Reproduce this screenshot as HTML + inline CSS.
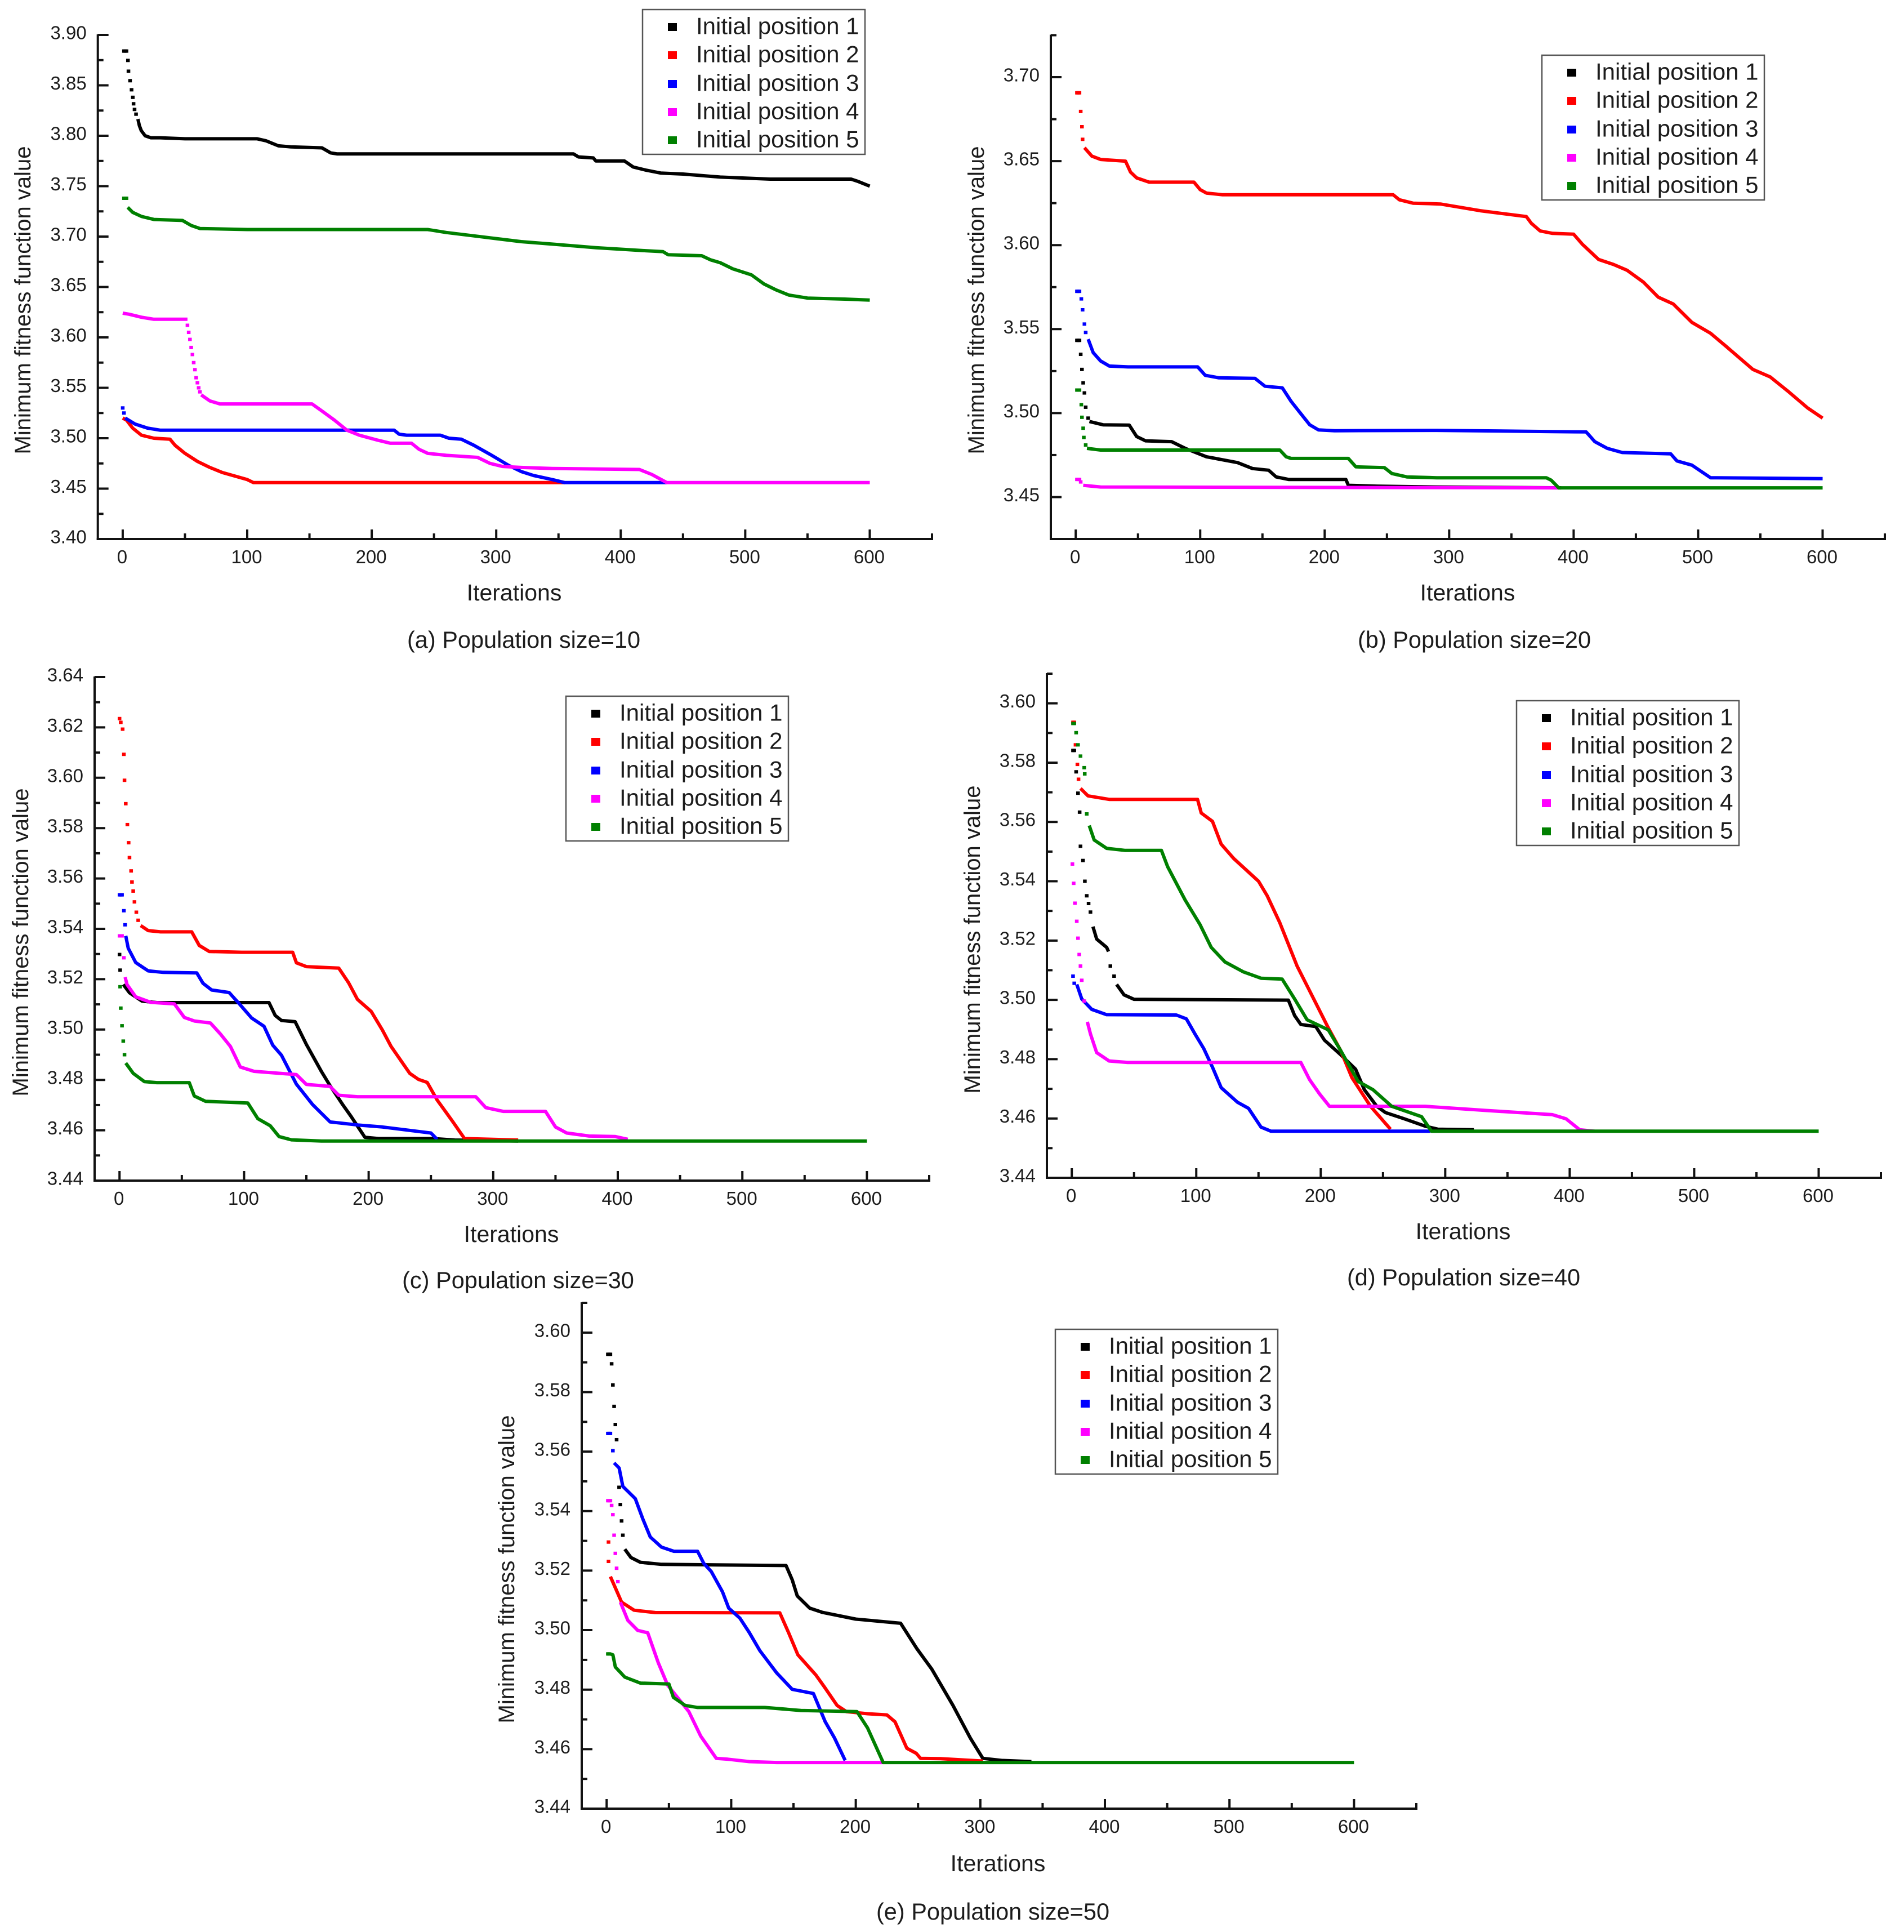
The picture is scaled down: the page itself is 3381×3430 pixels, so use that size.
<!DOCTYPE html>
<html lang="en">
<head>
<meta charset="utf-8">
<title>Minimum fitness function value by population size</title>
<style>
html,body{margin:0;padding:0;background:#fff;}
svg{display:block;}
text{font-family:"Liberation Sans",Arial,sans-serif;fill:#1c1c1c;}
</style>
</head>
<body>
<svg id="figure" xmlns="http://www.w3.org/2000/svg" width="3381" height="3430" viewBox="0 0 3381 3430"></svg>
<script>
const xMajorTicks=[0,100,200,300,400,500,600];
const xMinorTicks=[50,150,250,350,450,550,650];
const seriesLabels=['Initial position 1','Initial position 2','Initial position 3','Initial position 4','Initial position 5'];
const seriesColors=['#000000','#ff0000','#0000ff','#ff00ff','#008000'];

/* (a) Population size = 10 */
const aYMajor=['3.40','3.45','3.50','3.55','3.60','3.65','3.70','3.75','3.80','3.85','3.90'];
const aYMinor=[3.425,3.475,3.525,3.575,3.625,3.675,3.725,3.775,3.825,3.875];
const aDotIter1=[1,2,3,4.2,4.6,5.9,7.1,8.1,8.7,9.5,10.7];
const aDotVal1=[3.884,3.884,3.884,3.8747,3.864,3.8546,3.8456,3.8381,3.8317,3.8261,3.8214];
const aIter1=[12.2,13.4,14.9,18,22.5,30,50,108,115,125,135,160,167,172,362,366,378,380,403,410,420,432,450,480,520,585,590,600];
const aVal1=[3.8166,3.81,3.805,3.8,3.798,3.798,3.797,3.797,3.795,3.79,3.789,3.788,3.783,3.782,3.782,3.779,3.778,3.775,3.775,3.769,3.766,3.763,3.762,3.759,3.757,3.757,3.755,3.75];
const aDotIter2=[];
const aDotVal2=[];
const aIter2=[0,3,8,15,25,38,42,50,60,70,80,100,105,355];
const aVal2=[3.52,3.518,3.51,3.503,3.5,3.499,3.493,3.485,3.477,3.471,3.466,3.459,3.456,3.456];
const aDotIter3=[0,1];
const aDotVal3=[3.53,3.525];
const aIter3=[2,10,20,30,218,222,228,255,262,272,282,295,310,320,330,345,355,437];
const aVal3=[3.52,3.514,3.51,3.508,3.508,3.504,3.503,3.503,3.5,3.499,3.493,3.484,3.473,3.467,3.463,3.459,3.456,3.456];
const aDotIter4=[52,53,54,55,56,57,58,59,60,61,62];
const aDotVal4=[3.612,3.605,3.598,3.59,3.583,3.575,3.568,3.56,3.555,3.55,3.546];
const aIter4=[0,5,15,25,52];
const aVal4=[3.624,3.623,3.62,3.618,3.618];
const aIter4b=[63,70,78,100,152,160,170,180,190,205,215,232,238,245,260,285,295,305,320,345,415,425,437,600];
const aVal4b=[3.543,3.537,3.534,3.534,3.534,3.527,3.518,3.508,3.503,3.498,3.495,3.495,3.489,3.485,3.483,3.481,3.475,3.472,3.471,3.47,3.469,3.464,3.456,3.456];
const aDotIter5=[1,2,3];
const aDotVal5=[3.738,3.738,3.738];
const aIter5=[4,8,15,25,48,55,62,100,245,260,280,300,320,350,380,420,434,438,465,472,480,490,505,515,525,535,550,580,600];
const aVal5=[3.729,3.724,3.72,3.717,3.716,3.711,3.708,3.707,3.707,3.704,3.701,3.698,3.695,3.692,3.689,3.686,3.685,3.682,3.681,3.677,3.674,3.668,3.662,3.653,3.647,3.642,3.639,3.638,3.637];

/* (b) Population size = 20 */
const bYMajor=['3.45','3.50','3.55','3.60','3.65','3.70'];
const bYMinor=[3.475,3.525,3.575,3.625,3.675,3.725];
const bDotIter1=[1,2,3,4,5,6,7,8,10];
const bDotVal1=[3.5433,3.5433,3.5433,3.535,3.526,3.518,3.512,3.5035,3.497];
const bIter1=[11,22,43,49,56,77,88,105,130,142,155,161,171,217,219,242,290,390];
const bVal1=[3.495,3.493,3.4928,3.486,3.4835,3.483,3.479,3.474,3.4705,3.467,3.466,3.462,3.4605,3.4605,3.457,3.4565,3.456,3.4555];
const bDotIter2=[1,2,3,4,5,5.5];
const bDotVal2=[3.6907,3.6907,3.6907,3.6796,3.6705,3.663];
const bIter2=[7,13,20,40,44,49,59,95,100,105,118,255,260,271,293,325,362,366,373,383,400,407,420,432,443,456,468,480,495,510,522,544,558,573,588,600];
const bVal2=[3.658,3.653,3.651,3.65,3.6435,3.64,3.6375,3.6375,3.633,3.631,3.63,3.63,3.627,3.625,3.6245,3.6205,3.617,3.613,3.6085,3.607,3.6065,3.6005,3.5915,3.5885,3.585,3.578,3.569,3.565,3.554,3.5475,3.54,3.526,3.5215,3.5125,3.503,3.497];
const bDotIter3=[1,2,3,4.5,5.5,7,8];
const bDotVal3=[3.5725,3.5725,3.5725,3.568,3.5615,3.553,3.548];
const bIter3=[10,14,20,27,42,98,104,115,144,152,166,173,181,188,195,208,290,383,410,417,427,439,478,483,495,510,600];
const bVal3=[3.544,3.536,3.531,3.528,3.5275,3.5275,3.5225,3.521,3.5207,3.516,3.515,3.507,3.4995,3.493,3.49,3.4895,3.4897,3.489,3.4888,3.483,3.479,3.4765,3.4757,3.4715,3.469,3.4615,3.461];
const bDotIter4=[1,2,3,4];
const bDotVal4=[3.4605,3.4605,3.4605,3.459];
const bIter4=[6,20,388];
const bVal4=[3.457,3.456,3.4555];
const bDotIter5=[1,2,3,4.5,5,6,6.5,8];
const bDotVal5=[3.5137,3.5137,3.5137,3.505,3.4975,3.491,3.4855,3.481];
const bIter5=[9,20,164,169,173,219,225,248,254,266,290,378,382,388,600];
const bVal5=[3.479,3.478,3.478,3.474,3.473,3.473,3.468,3.4675,3.464,3.462,3.4615,3.4615,3.46,3.4555,3.4555];

/* (c) Population size = 30 */
const cYMajor=['3.44','3.46','3.48','3.50','3.52','3.54','3.56','3.58','3.60','3.62','3.64'];
const cYMinor=[3.45,3.47,3.49,3.51,3.53,3.55,3.57,3.59,3.61,3.63];
const cDotIter1=[0,0.5];
const cDotVal1=[3.5298,3.5236];
const cIter1=[3,8,18,30,120,125,130,141,150,162,169,179,186,197,208,252,269,320];
const cVal1=[3.5179,3.5146,3.5113,3.5107,3.5107,3.5056,3.5036,3.5031,3.4941,3.4834,3.4777,3.4703,3.4654,3.4572,3.4567,3.4567,3.4561,3.4557];
const cDotIter2=[0,1,2.5,3.5,4,5,6.3,7.3,8,9.3,10,11,12,13.5,15];
const cDotVal2=[3.6235,3.622,3.6193,3.6093,3.599,3.5897,3.5814,3.5742,3.5683,3.563,3.5586,3.555,3.5507,3.5466,3.5434];
const cIter2=[17,23,33,58,64,72,98,139,142,150,176,184,191,202,211,218,233,240,247,255,267,277,320];
const cVal2=[3.5413,3.5393,3.5388,3.5388,3.5334,3.531,3.5307,3.5307,3.5265,3.525,3.5244,3.5185,3.512,3.5072,3.4998,3.4933,3.4826,3.4802,3.479,3.472,3.4638,3.4567,3.4561];
const cDotIter3=[0,1,2,3.5,4.5];
const cDotVal3=[3.5535,3.5535,3.5535,3.5472,3.5416];
const cIter3=[5,7,13,23,35,62,67,74,88,96,106,116,123,130,142,155,169,191,211,250,255];
const cVal3=[3.5372,3.5323,3.5266,3.5233,3.5227,3.5225,3.5184,3.5157,3.5147,3.5103,3.5046,3.5013,3.4938,3.4898,3.4783,3.4702,3.4633,3.4621,3.4613,3.4589,3.4564];
const cDotIter4=[0,1,2,3.5];
const cDotVal4=[3.5372,3.5372,3.5372,3.5285];
const cIter4=[4.5,6,13,25,44,52,60,73,81,89,97,108,142,150,169,176,191,286,294,308,342,350,359,377,398,408];
const cVal4=[3.5208,3.5179,3.513,3.5108,3.5102,3.5048,3.5034,3.5026,3.4982,3.4933,3.4851,3.4834,3.4821,3.4782,3.4774,3.4739,3.4733,3.4733,3.469,3.4675,3.4675,3.4613,3.4589,3.4577,3.4575,3.4564];
const cDotIter5=[0.5,1,2,3,4];
const cDotVal5=[3.517,3.5085,3.5015,3.4954,3.49];
const cIter5=[5,11,20,30,56,60,69,103,111,121,128,138,162,600];
const cVal5=[3.4867,3.4826,3.4793,3.4789,3.4789,3.4736,3.4715,3.4708,3.4646,3.4618,3.4575,3.4562,3.4557,3.4557];

/* (d) Population size = 40 */
const dYMajor=['3.44','3.46','3.48','3.50','3.52','3.54','3.56','3.58','3.60'];
const dYMinor=[3.45,3.47,3.49,3.51,3.53,3.55,3.57,3.59,3.61];
const dDotIter1=[1,2,3.5,5,6.3,7,9,10.5,12,13.5,15,31,34];
const dDotVal1=[3.5841,3.5841,3.5769,3.5697,3.5633,3.5518,3.547,3.54,3.5351,3.5325,3.5296,3.5114,3.508];
const dIter1=[17,20,28,29.5];
const dVal1=[3.5247,3.5205,3.5177,3.5163];
const dIter1b=[36,42,50,174,179,184,196,203,216,228,235,245,252,267,284,294,323];
const dVal1b=[3.5052,3.5017,3.5002,3.4999,3.4947,3.4917,3.491,3.4864,3.4815,3.4766,3.4697,3.4641,3.462,3.4599,3.4574,3.4564,3.4562];
const dDotIter2=[1,2,3,4.5,5.4];
const dDotVal2=[3.5936,3.5936,3.586,3.5794,3.5744];
const dIter2=[7,13,30,101,104,113,120,130,150,157,167,181,191,206,216,225,240,256];
const dVal2=[3.5713,3.5688,3.5676,3.5676,3.563,3.5602,3.5525,3.5477,3.54,3.5351,3.5261,3.5114,3.5031,3.4906,3.4829,3.4738,3.4641,3.4564];
const dDotIter3=[1,2];
const dDotVal3=[3.508,3.5056];
const dIter3=[4,8,16,28,84,92,99,106,113,120,133,142,152,160,288];
const dVal3=[3.5052,3.5003,3.4968,3.495,3.4949,3.4936,3.4885,3.4836,3.4773,3.4704,3.4655,3.4634,3.4571,3.4557,3.4557];
const dDotIter4=[0.5,1.5,2.5,4,5,6,7,8,10];
const dDotVal4=[3.5458,3.5393,3.5326,3.5265,3.5208,3.5153,3.5114,3.5066,3.4996];
const dIter4=[12.5,15,20,30,45,184,191,199,207,284,333,386,397,408,420];
const dVal4=[3.4926,3.4885,3.4822,3.4794,3.4789,3.4789,3.4731,3.4683,3.4641,3.4641,3.4627,3.4613,3.4599,3.4562,3.4557];
const dDotIter5=[1,2,3.5,5,7,10,10.4,12];
const dDotVal5=[3.5932,3.5932,3.5901,3.586,3.5822,3.5783,3.5762,3.5627];
const dIter5=[14,18,28,43,72,77,91,103,112,123,138,152,169,179,189,206,216,230,242,257,281,289,600];
const dVal5=[3.5588,3.5539,3.5511,3.5504,3.5504,3.5449,3.5337,3.5254,3.5177,3.5128,3.5094,3.5073,3.507,3.5003,3.4933,3.4899,3.4829,3.4725,3.4697,3.4641,3.4606,3.4557,3.4557];

/* (e) Population size = 50 */
const eYMajor=['3.44','3.46','3.48','3.50','3.52','3.54','3.56','3.58','3.60'];
const eYMinor=[3.45,3.47,3.49,3.51,3.53,3.55,3.57,3.59,3.61];
const eDotIter1=[1,2,3,4,5,6,7,8,10,11,12,13];
const eDotVal1=[3.5927,3.5927,3.5927,3.5895,3.5824,3.5752,3.5691,3.564,3.548,3.5422,3.5367,3.5319];
const eIter1=[14.6,19.5,27,44,144,149,153,163,173,200,236,249,261,278,292,302,317,341];
const eVal1=[3.5272,3.5244,3.5228,3.5221,3.5217,3.5169,3.5115,3.5074,3.506,3.5037,3.5023,3.4938,3.4869,3.4747,3.4637,3.4569,3.4562,3.4558];
const eDotIter2=[1.5,1.5];
const eDotVal2=[3.5296,3.5231];
const eIter2=[3,7,12,22,39,139,146,153.5,168,175,185,192.5,209.5,225,231.5,241,248.5,252,268,302];
const eVal2=[3.518,3.5142,3.5094,3.5067,3.5059,3.5058,3.4992,3.4917,3.4849,3.4808,3.4747,3.4726,3.4719,3.4715,3.4692,3.4603,3.4586,3.4569,3.4568,3.456];
const eDotIter3=[1,2,3,5];
const eDotVal3=[3.5661,3.5661,3.5661,3.5603];
const eIter3=[6,10,13,23,29,35,44,54,73,78,84,93,98,107,114.5,123,136.5,149,166,175.5,183,191.5];
const eVal3=[3.5562,3.5545,3.5483,3.5442,3.5374,3.5313,3.5279,3.5265,3.5265,3.5224,3.5197,3.5129,3.5074,3.504,3.4992,3.4931,3.4856,3.4801,3.4787,3.4692,3.4637,3.4562];
const eDotIter4=[1,2,3,4,5,6,7,8,9];
const eDotVal4=[3.5435,3.5435,3.5435,3.5419,3.5388,3.5319,3.5258,3.5208,3.5163];
const eIter4=[11,17,25,33,41.5,49,66,75.5,88,97.5,114.5,136.5,222];
const eVal4=[3.5094,3.5033,3.4999,3.4991,3.489,3.4815,3.4726,3.4644,3.4569,3.4566,3.4558,3.4555,3.4555];
const eDotIter5=[1,2];
const eDotVal5=[3.492,3.492];
const eIter5=[3,5,7,14.6,27,50,53.6,63,73,127,156,201,209.5,222,600];
const eVal5=[3.492,3.4917,3.4876,3.4842,3.4822,3.4819,3.4774,3.4747,3.474,3.474,3.473,3.4726,3.4671,3.4555,3.4555];

const panels=[
 {key:'a',left:173.7,right:1655,bottom:957,top:62,yLo:3.40,yHi:3.90,yMajor:aYMajor,yMinor:aYMinor,
  lines:[[aIter1,aVal1],[aIter2,aVal2],[aIter3,aVal3],[aIter4,aVal4,aIter4b,aVal4b],[aIter5,aVal5]],
  dots:[[aDotIter1,aDotVal1],[aDotIter2,aDotVal2],[aDotIter3,aDotVal3],[aDotIter4,aDotVal4],[aDotIter5,aDotVal5]],
  legendX:1141,legendY:17,yTitle:'Minimum fitness function value',yTitleX:54,yTitleY:533,xTitleX:913,xTitleY:1066,caption:'(a) Population size=10',capX:930,capY:1150},
 {key:'b',left:1866,right:3347,bottom:957,top:62.5,yLo:3.425,yHi:3.725,yMajor:bYMajor,yMinor:bYMinor,
  lines:[[bIter1,bVal1],[bIter2,bVal2],[bIter3,bVal3],[bIter4,bVal4],[bIter5,bVal5]],
  dots:[[bDotIter1,bDotVal1],[bDotIter2,bDotVal2],[bDotIter3,bDotVal3],[bDotIter4,bDotVal4],[bDotIter5,bDotVal5]],
  legendX:2738,legendY:98,yTitle:'Minimum fitness function value',yTitleX:1747,yTitleY:533,xTitleX:2606,xTitleY:1066,caption:'(b) Population size=20',capX:2618,capY:1150},
 {key:'c',left:168,right:1650,bottom:2096,top:1202,yLo:3.44,yHi:3.64,yMajor:cYMajor,yMinor:cYMinor,
  lines:[[cIter1,cVal1],[cIter2,cVal2],[cIter3,cVal3],[cIter4,cVal4],[cIter5,cVal5]],
  dots:[[cDotIter1,cDotVal1],[cDotIter2,cDotVal2],[cDotIter3,cDotVal3],[cDotIter4,cDotVal4],[cDotIter5,cDotVal5]],
  legendX:1005,legendY:1236,yTitle:'Minimum fitness function value',yTitleX:50,yTitleY:1673,xTitleX:908,xTitleY:2205,caption:'(c) Population size=30',capX:920,capY:2287},
 {key:'d',left:1859,right:3340,bottom:2091,top:1196,yLo:3.44,yHi:3.61,yMajor:dYMajor,yMinor:dYMinor,
  lines:[[dIter1,dVal1,dIter1b,dVal1b],[dIter2,dVal2],[dIter3,dVal3],[dIter4,dVal4],[dIter5,dVal5]],
  dots:[[dDotIter1,dDotVal1],[dDotIter2,dDotVal2],[dDotIter3,dDotVal3],[dDotIter4,dDotVal4],[dDotIter5,dDotVal5]],
  legendX:2693,legendY:1244,yTitle:'Minimum fitness function value',yTitleX:1740,yTitleY:1668,xTitleX:2598,xTitleY:2200,caption:'(d) Population size=40',capX:2599,capY:2282},
 {key:'e',left:1033,right:2515,bottom:3211,top:2313,yLo:3.44,yHi:3.61,yMajor:eYMajor,yMinor:eYMinor,
  lines:[[eIter1,eVal1],[eIter2,eVal2],[eIter3,eVal3],[eIter4,eVal4],[eIter5,eVal5]],
  dots:[[eDotIter1,eDotVal1],[eDotIter2,eDotVal2],[eDotIter3,eDotVal3],[eDotIter4,eDotVal4],[eDotIter5,eDotVal5]],
  legendX:1874,legendY:2360,yTitle:'Minimum fitness function value',yTitleX:913,yTitleY:2786,xTitleX:1772,xTitleY:3322,caption:'(e) Population size=50',capX:1763,capY:3408}
];

const NS='http://www.w3.org/2000/svg';
const root=document.getElementById('figure');
function make(parent,tag,attrs,txt){
  const n=document.createElementNS(NS,tag);
  for(const k in attrs){n.setAttribute(k,attrs[k]);}
  if(txt!==undefined){n.textContent=txt;}
  parent.appendChild(n);
  return n;
}
function drawPanel(p){
  const xPos=function(v){return p.left+(v+20)/670*(p.right-p.left);};
  const yPos=function(v){return p.bottom-(v-p.yLo)/(p.yHi-p.yLo)*(p.bottom-p.top);};
  const g=make(root,'g',{});
  
  

  let el=make(g,'line',{x1:p.left,y1:p.top-1,x2:p.left,y2:p.bottom+2,stroke:'#111',"stroke-width":4});
  
  
  el=make(g,'line',{x1:p.left-2,y1:p.bottom,x2:p.right+2,y2:p.bottom,stroke:'#111',"stroke-width":4});
  
  

  xMajorTicks.forEach(function(t){
    const tick=make(g,'line',{x1:xPos(t),y1:p.bottom,x2:xPos(t),y2:p.bottom-17,stroke:'#111',"stroke-width":4});
    
    
    const lab=make(g,'text',{x:xPos(t)-1,y:p.bottom+43,"font-size":33,"text-anchor":'middle'},String(t));
    
    
  });
  xMinorTicks.forEach(function(t){
    const tick=make(g,'line',{x1:xPos(t),y1:p.bottom,x2:xPos(t),y2:p.bottom-10,stroke:'#111',"stroke-width":4});
    
    
  });
  p.yMajor.forEach(function(t){
    const v=parseFloat(t);
    const tick=make(g,'line',{x1:p.left,y1:yPos(v),x2:p.left+19,y2:yPos(v),stroke:'#111',"stroke-width":4});
    
    
    const lab=make(g,'text',{x:p.left-20,y:yPos(v)+7.5,"font-size":33,"text-anchor":'end'},t);
    
    
  });
  p.yMinor.forEach(function(v){
    const tick=make(g,'line',{x1:p.left,y1:yPos(v),x2:p.left+10,y2:yPos(v),stroke:'#111',"stroke-width":4});
    
    
  });

  p.lines.forEach(function(s,i){
    const sg=make(g,'g',{});
    
    
    for(let seg=0;seg<s.length;seg+=2){
      const xs=s[seg];
      const ys=s[seg+1];
      const pts=xs.map(function(x,k){return xPos(x).toFixed(1)+','+yPos(ys[k]).toFixed(1);}).join(' ');
      const line=make(sg,'polyline',{points:pts,fill:'none',stroke:seriesColors[i],"stroke-width":6,"stroke-linejoin":'round',"stroke-linecap":'butt'});
      
      
    }
    const d=p.dots[i];
    d[0].forEach(function(x,k){
      const dot=make(sg,'rect',{x:xPos(x)-3.25,y:yPos(d[1][k])-3,width:6.5,height:6,fill:seriesColors[i]});
      
      
    });
  });

  const leg=make(g,'g',{});
  
  
  el=make(leg,'rect',{x:p.legendX,y:p.legendY,width:395,height:257,fill:'#fff',stroke:'#555',"stroke-width":2.5});
  
  
  const rows=[31,81,132,182,232];
  seriesLabels.forEach(function(label,i){
    const entry=make(leg,'g',{});
    
    
    const sw=make(entry,'rect',{x:p.legendX+45,y:p.legendY+rows[i]-7,width:16,height:14,fill:seriesColors[i]});
    
    
    const t=make(entry,'text',{x:p.legendX+95,y:p.legendY+rows[i]+12.5,"font-size":42},label);
    
    
  });

  el=make(g,'text',{x:p.yTitleX,y:p.yTitleY,"font-size":40,"text-anchor":'middle',transform:'rotate(-90 '+p.yTitleX+' '+p.yTitleY+')'},p.yTitle);
  
  
  el=make(g,'text',{x:p.xTitleX,y:p.xTitleY,"font-size":41,"text-anchor":'middle'},'Iterations');
  
  
  el=make(g,'text',{x:p.capX,y:p.capY,"font-size":41.5,"text-anchor":'middle'},p.caption);
  
  
}
panels.forEach(drawPanel);
</script>
</body>
</html>
